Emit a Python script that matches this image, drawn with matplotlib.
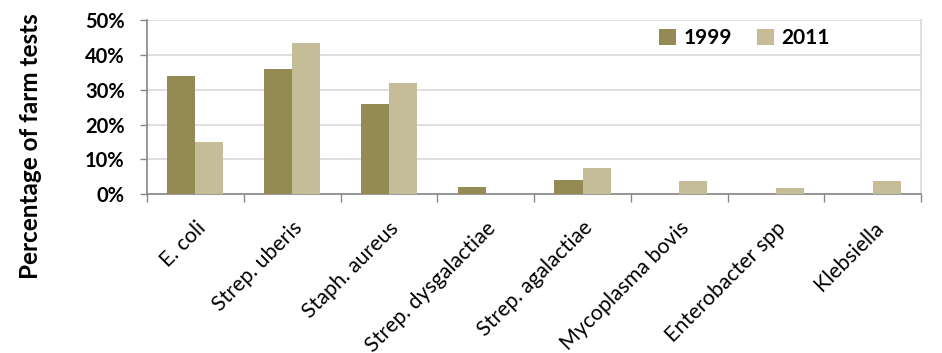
import numpy as np
import matplotlib.pyplot as plt
import matplotlib.transforms as mtransforms
from matplotlib.ticker import FuncFormatter, FixedLocator

categories = ["E. coli", "Strep. uberis", "Staph. aureus", "Strep. dysgalactiae",
              "Strep. agalactiae", "Mycoplasma bovis", "Enterobacter spp", "Klebsiella"]
vals_1999 = [34, 36, 26, 2, 4, 0, 0, 0]
vals_2011 = [15, 43.4, 32, 0, 7.5, 3.8, 1.9, 3.8]
years = ["1999", "2011"]
colors = ["#948A54", "#C4BD97"]

plt.rcParams['font.family'] = ['Lato', 'DejaVu Sans']

fig = plt.figure(figsize=(9.42, 3.53), dpi=100)
ax = fig.add_axes([0.156, 0.45, 0.822, 0.493])

x = np.arange(len(categories))
w = 0.29
ax.bar(x - w / 2, vals_1999, w, color=colors[0], label=years[0], zorder=3)
ax.bar(x + w / 2, vals_2011, w, color=colors[1], label=years[1], zorder=3)

ax.set_xlim(-0.5, len(categories) - 0.5)
ax.set_ylim(0, 50)
ax.set_yticks(range(0, 51, 10))
ax.yaxis.set_major_formatter(FuncFormatter(lambda v, p: f"{int(v)}%"))
ax.grid(axis='y', color='#D9D9D9', linewidth=1.2, zorder=0)

# ticks between categories, labels at category centres
ax.xaxis.set_major_locator(FixedLocator(np.arange(-0.5, len(categories), 1)))
ax.set_xticklabels([])
ax.xaxis.set_minor_locator(FixedLocator(x))
ax.set_xticklabels(categories, minor=True, rotation=45, ha='right',
                   rotation_mode='anchor', fontsize=15.3)
offset = mtransforms.ScaledTranslation(10 / 100, 0, fig.dpi_scale_trans)
for lbl in ax.xaxis.get_minorticklabels():
    lbl.set_transform(lbl.get_transform() + offset)
ax.tick_params(axis='x', which='minor', length=0, pad=17)
ax.tick_params(axis='x', which='major', length=6, color='#868686', width=1)
ax.tick_params(axis='y', length=5, color='#868686', width=1, labelsize=14.5, pad=11)
for t in ax.get_yticklabels():
    t.set_fontweight('bold')

ax.spines['top'].set_visible(False)
for s in ['left', 'bottom']:
    ax.spines[s].set_color('#868686')
    ax.spines[s].set_linewidth(1.2)
ax.spines['right'].set_color('#D9D9D9')
ax.spines['right'].set_linewidth(1.2)

fig.text(0.032, 0.586, "Percentage of farm tests", rotation=90, ha='center', va='center',
         fontsize=17.5, fontweight='bold')

leg = fig.legend(loc='center left', bbox_to_anchor=(0.700, 0.892), ncol=2, frameon=False,
                 prop={'size': 15, 'weight': 'bold'}, handlelength=0.8, handleheight=0.8,
                 handletextpad=0.35, columnspacing=1.2, borderpad=0, borderaxespad=0)

fig.savefig("out.png", dpi=100)
